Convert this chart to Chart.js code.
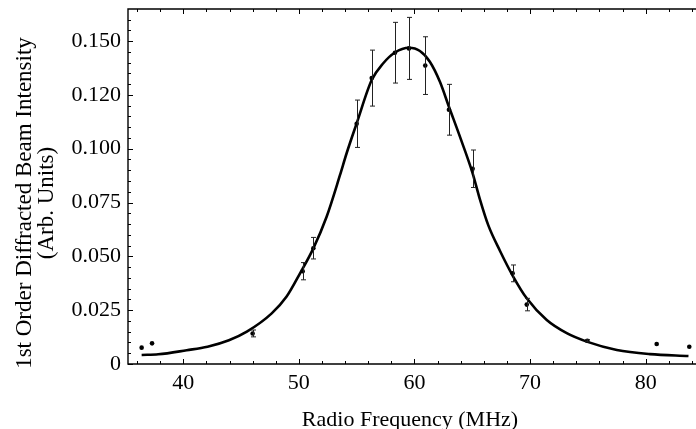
<!DOCTYPE html>
<html><head><meta charset="utf-8">
<script src="https://cdn.jsdelivr.net/npm/chart.js@4.4.0/dist/chart.umd.min.js"></script>
<style>html,body{margin:0;padding:0;background:#fff;overflow:hidden;}#wrap{width:696px;height:429px;position:relative;}</style>
</head><body><div id="wrap"><canvas id="c" width="696" height="429"></canvas></div>
<script>
// Measured points
const freqMeasured = [36.4, 37.3, 46.0, 50.33, 51.25, 55.0, 56.3, 58.31, 59.52, 60.93, 62.98, 65.03, 68.49, 69.71, 74.95, 80.95, 83.77];
const intensityMeasured = [0.0076, 0.0096, 0.0142, 0.0431, 0.0538, 0.1116, 0.1328, 0.1446, 0.1466, 0.1386, 0.1181, 0.0907, 0.0421, 0.0276, 0.0108, 0.0093, 0.0080];
const intensityError = [0, 0, 0.0016, 0.0040, 0.0050, 0.0110, 0.0130, 0.0141, 0.0144, 0.0134, 0.0118, 0.0087, 0.0039, 0.0029, 0.0005, 0, 0];
// Fitted curve
const fitFreq = [36.4, 37.84, 40.3, 42.1, 43.95, 45.5, 47.65, 48.94, 50.1, 51.25, 52.4, 53.56, 54.13, 55.0, 56.3, 57.3, 58.31, 59.52, 60.47, 61.33, 62.2, 62.98, 63.93, 65.03, 65.66, 66.38, 67.4, 68.55, 69.71, 71.44, 73.17, 74.9, 77.5, 80.37, 83.7];
const fitIntensity = [0.0042, 0.0045, 0.0064, 0.0080, 0.0110, 0.0150, 0.0235, 0.0313, 0.0421, 0.0537, 0.0684, 0.0878, 0.0979, 0.1118, 0.1319, 0.1397, 0.1447, 0.1469, 0.1454, 0.1404, 0.1311, 0.1195, 0.1056, 0.0886, 0.0765, 0.0645, 0.0525, 0.0405, 0.0305, 0.0204, 0.0143, 0.0104, 0.0065, 0.0046, 0.0037];
// Axes
const xTickValues = [40, 50, 60, 70, 80];
const xTickLabels = ["40", "50", "60", "70", "80"];
const yTickValues = [0, 0.025, 0.05, 0.075, 0.1, 0.125, 0.15];
const yTickLabels = ["0", "0.025", "0.050", "0.075", "0.100", "0.120", "0.150"];
const xTitle = "Radio Frequency (MHz)";
const yTitleLines = ["1st Order Diffracted Beam Intensity", "(Arb. Units)"];
const xRange = [35.22, 84.35];
const yRange = [0, 0.1649];
const xMinorStep = 2;
const yMinorStep = 0.005;

const FONT = "'Liberation Serif','Times New Roman',serif";
Chart.defaults.font.family = FONT;
Chart.defaults.font.size = 22;
Chart.defaults.color = '#000';

const measuredData = freqMeasured.map((f, i) => ({x: f, y: intensityMeasured[i], e: intensityError[i]}));
const fitData = fitFreq.map((f, i) => ({x: f, y: fitIntensity[i]}));

const errorBarPlugin = {
  id: 'errorBars',
  afterDatasetsDraw(chart) {
    const ctx = chart.ctx, xs = chart.scales.x, ys = chart.scales.y;
    ctx.save();
    ctx.strokeStyle = '#222';
    ctx.lineWidth = 1;
    measuredData.forEach(d => {
      if (!d.e) return;
      const px = Math.round(xs.getPixelForValue(d.x)) + 0.5;
      const y1 = ys.getPixelForValue(d.y + d.e), y2 = ys.getPixelForValue(d.y - d.e);
      ctx.beginPath();
      ctx.moveTo(px, y1); ctx.lineTo(px, y2);
      ctx.moveTo(px - 2.5, y1); ctx.lineTo(px + 2.5, y1);
      ctx.moveTo(px - 2.5, y2); ctx.lineTo(px + 2.5, y2);
      ctx.stroke();
    });
    ctx.restore();
  }
};

const framePlugin = {
  id: 'frame',
  afterDraw(chart) {
    const ctx = chart.ctx, a = chart.chartArea, xs = chart.scales.x, ys = chart.scales.y;
    ctx.save();
    ctx.strokeStyle = '#000';
    ctx.lineWidth = 1.4;
    ctx.beginPath();
    ctx.moveTo(chart.width, a.top); ctx.lineTo(a.left, a.top); ctx.lineTo(a.left, a.bottom); ctx.lineTo(chart.width, a.bottom);
    ctx.stroke();
    ctx.lineWidth = 1;
    ctx.beginPath();
    for (let v = Math.ceil(xRange[0] / xMinorStep) * xMinorStep; v <= xRange[1]; v += xMinorStep) {
      const major = xTickValues.includes(v);
      const L = major ? 5 : 3;
      const px = Math.round(xs.getPixelForValue(v)) + 0.5;
      ctx.moveTo(px, a.bottom); ctx.lineTo(px, a.bottom - L);
      ctx.moveTo(px, a.top); ctx.lineTo(px, a.top + L);
    }
    for (let k = 0; k * yMinorStep <= yRange[1] + 1e-9; k++) {
      const v = k * yMinorStep;
      const major = (k % 5) === 0;
      const L = major ? 5 : 3;
      const py = Math.round(ys.getPixelForValue(v)) + 0.5;
      ctx.moveTo(a.left, py); ctx.lineTo(a.left + L, py);
    }
    ctx.stroke();
    ctx.fillStyle = '#000';
    ctx.font = '22px ' + FONT;
    ctx.textAlign = 'center';
    ctx.textBaseline = 'alphabetic';
    ctx.fillText(xTitle, 410, 426);
    ctx.save();
    ctx.translate(31, 203);
    ctx.rotate(-Math.PI / 2);
    ctx.font = '23px ' + FONT;
    ctx.fillText(yTitleLines[0], 0, 0);
    ctx.fillText(yTitleLines[1], 0, 22);
    ctx.restore();
    ctx.restore();
  }
};

new Chart(document.getElementById('c'), {
  type: 'scatter',
  data: {
    datasets: [
      {data: fitData, showLine: true, borderColor: '#000', borderWidth: 2.6, pointRadius: 0, cubicInterpolationMode: 'monotone', order: 2, clip: false},
      {data: measuredData, showLine: false, backgroundColor: '#000', borderColor: '#000', pointRadius: 2.3, pointBorderWidth: 0, order: 1, clip: false}
    ]
  },
  options: {
    responsive: false, animation: false, devicePixelRatio: 1,
    layout: {autoPadding: false, padding: {left: 0, top: 9, right: 0, bottom: 0}},
    plugins: {legend: {display: false}, tooltip: {enabled: false}},
    scales: {
      x: {
        type: 'linear', min: xRange[0], max: xRange[1],
        grid: {display: false, drawTicks: false}, border: {display: false},
        afterBuildTicks: s => { s.ticks = xTickValues.map(v => ({value: v})); },
        afterFit: s => { s.height = 65; s.paddingLeft = 0; s.paddingRight = 0; },
        ticks: {padding: 6, maxRotation: 0, callback: (v, i) => xTickLabels[i]}
      },
      y: {
        type: 'linear', min: yRange[0], max: yRange[1],
        grid: {display: false, drawTicks: false}, border: {display: false},
        afterBuildTicks: s => { s.ticks = yTickValues.map(v => ({value: v})); },
        afterFit: s => { s.width = 128; s.paddingTop = 0; s.paddingBottom = 0; },
        ticks: {padding: 7, callback: (v, i) => yTickLabels[i]}
      }
    }
  },
  plugins: [errorBarPlugin, framePlugin]
});
</script></body></html>
